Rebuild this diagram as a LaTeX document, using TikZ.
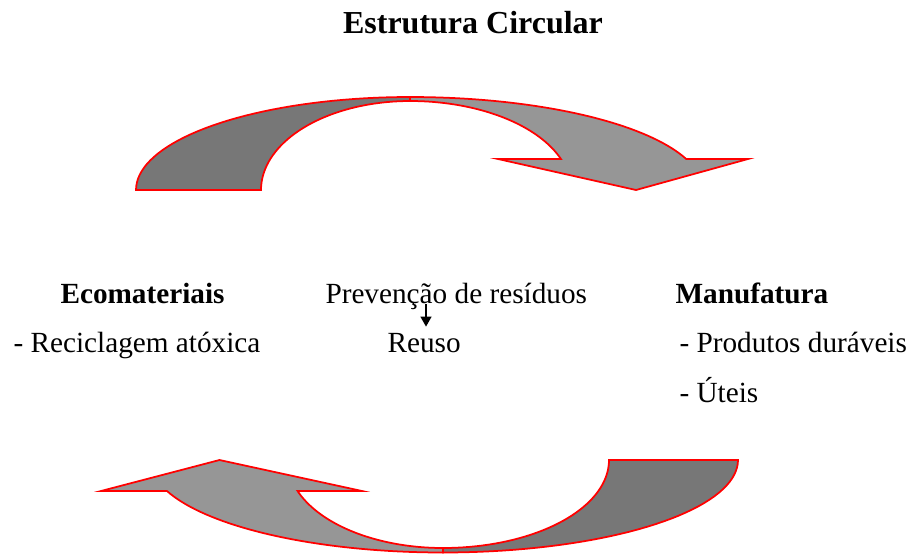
\documentclass[tikz,border=0pt]{standalone}
\usepackage{fontspec}
\setmainfont{Liberation Serif}
\usetikzlibrary{arrows.meta}
\definecolor{darkfill}{HTML}{777777}
\definecolor{lightfill}{HTML}{969696}
\begin{document}
\begin{tikzpicture}[x=0.4pt,y=-0.4pt,
  shell/.style={draw=red, line width=0.7pt, line join=miter},
  darkpart/.style={shell, fill=darkfill},
  lightpart/.style={shell, fill=lightfill},
  bodytext/.style={inner sep=0pt, anchor=base west, font=\fontsize{11.7}{14}\selectfont},
  bhead/.style={bodytext, font=\fontsize{11.7}{14}\selectfont\bfseries},
  titletext/.style={inner sep=0pt, anchor=base, font=\fontsize{12.8}{15}\selectfont\bfseries},
  smallarrow/.style={line width=0.5pt, -{Triangle[length=4pt,width=4.4pt]}, shorten >=2.3pt}]
\useasboundingbox (0,0) rectangle (911,554);

% top curved arrow
\draw[lightpart] plot[domain=270:340.53, samples=40, variable=\t] ({410+293*cos(\t)},{190+93*sin(\t)})
  -- (748,159) -- (636,190) -- (498,159)
  -- plot[domain=339.6:270, samples=40, variable=\t] ({410+161*cos(\t)},{190+89*sin(\t)}) -- cycle;
\draw[darkpart] plot[domain=180:270, samples=40, variable=\t] ({410+274*cos(\t)},{190+93*sin(\t)})
  -- plot[domain=270:180, samples=40, variable=\t] ({410+149*cos(\t)},{190+89*sin(\t)}) -- cycle;

% bottom curved arrow
\draw[lightpart] plot[domain=90:160.4, samples=40, variable=\t] ({443+293*cos(\t)},{460+92.5*sin(\t)})
  -- (101,491) -- (219.5,460) -- (362,491)
  -- plot[domain=159.4:90, samples=40, variable=\t] ({443+155.4*cos(\t)},{460+88*sin(\t)}) -- cycle;
\draw[darkpart] plot[domain=0:90, samples=40, variable=\t] ({443+295*cos(\t)},{460+92.5*sin(\t)})
  -- plot[domain=90:0, samples=40, variable=\t] ({443+166*cos(\t)},{460+88*sin(\t)}) -- cycle;

% texts
\node[titletext] (title) at (473,33) {Estrutura Circular};
\node[bhead] (eco) at (60,303) {Ecomateriais};
\node[bodytext] (prev) at (325,303) {Prevenção de resíduos};
\node[bhead] (manu) at (675,303) {Manufatura};
\node[bodytext] (recic) at (13,352) {- Reciclagem atóxica};
\node[bodytext] (reuso) at (387,352) {Reuso};
\node[bodytext] (prod) at (679,352) {- Produtos duráveis};
\node[bodytext] (uteis) at (679,402) {- Úteis};

\coordinate (arrtop) at (426,304);
\draw[smallarrow] (arrtop) -- (arrtop |- reuso.north);
\end{tikzpicture}
\end{document}
